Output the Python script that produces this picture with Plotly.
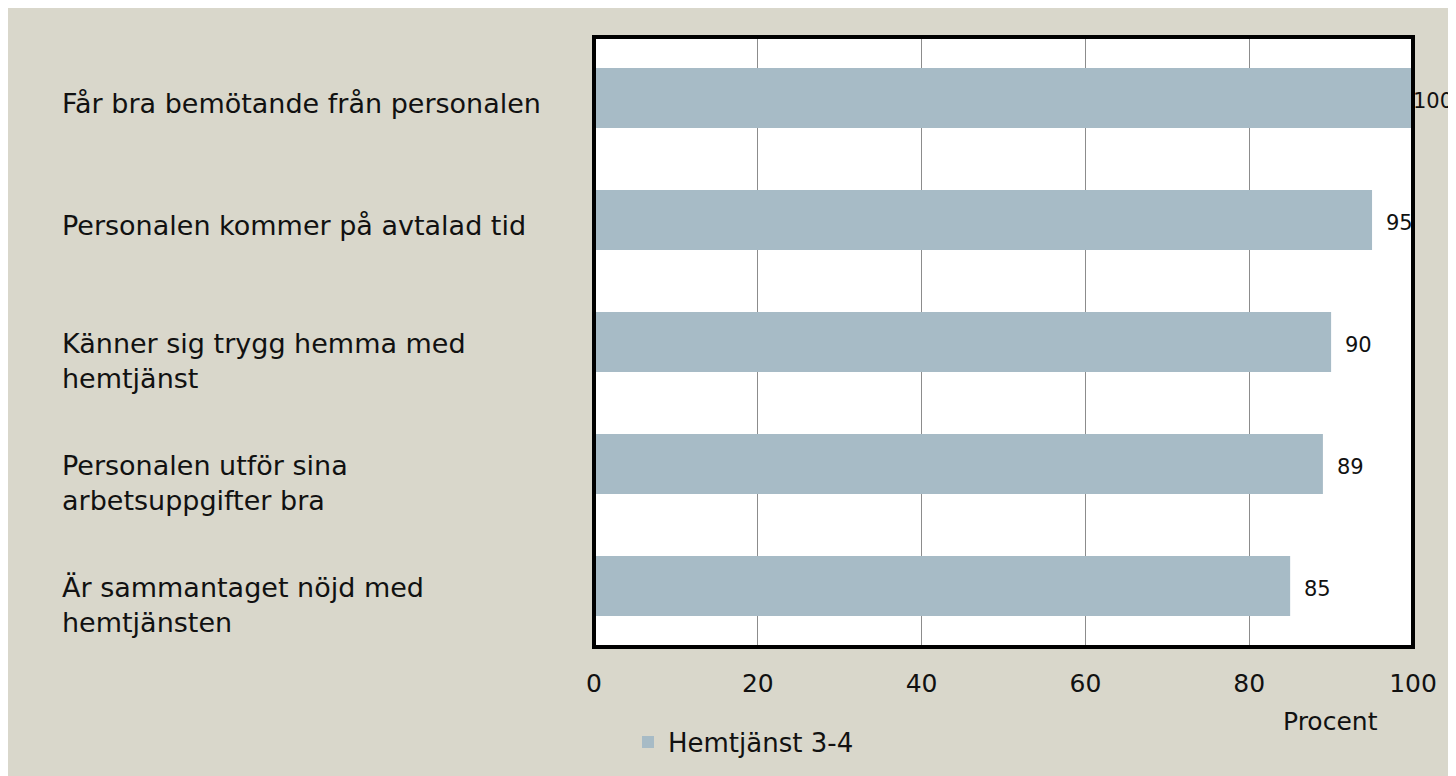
import plotly.graph_objects as go

categories = [
    "Får bra bemötande från personalen",
    "Personalen kommer på avtalad tid",
    "Känner sig trygg hemma med<br>hemtjänst",
    "Personalen utför sina<br>arbetsuppgifter bra",
    "Är sammantaget nöjd med<br>hemtjänsten",
]
values = [100, 95, 90, 89, 85]
series_name = "Hemtjänst 3-4"
x_ticks = [0, 20, 40, 60, 80, 100]
axis_title = "Procent"

# page offset of the figure div (default body margin)
OX, OY = 8, 8
W, H = 1448, 768
PL, PT, PR, PB = 594, 37, 1413, 648  # plot area in page pixels
L, T = PL - OX, PT - OY
R, B = (OX + W) - PR, (OY + H) - PB
pw, ph = PR - PL, PB - PT


def xf(px):
    return (px - PL) / pw


def yf(py):
    return (PB - py) / ph


FONT = "DejaVu Sans"
FS = 25
FS_CAT = 27
FS_VAL = 21
BG = "#D9D7CB"
BAR = "#A7BBC6"
TXT = "#111111"

fig = go.Figure()
fig.add_trace(go.Bar(
    x=values, y=categories, orientation="h", name=series_name,
    marker=dict(color=BAR, line=dict(width=0)),
    showlegend=True,
))

annotations = []
for c, v in zip(categories, values):
    multi = "<br>" in c
    annotations.append(dict(
        x=xf(60), xref="paper", y=c, yref="y",
        text=c, showarrow=False, xanchor="left", yanchor="middle",
        align="left", yshift=-19 if multi else -5,
        font=dict(family=FONT, size=FS_CAT, color=TXT),
    ))
    annotations.append(dict(
        x=v, xref="x", y=c, yref="y", text=str(v), showarrow=False,
        xanchor="left", yanchor="middle", xshift=-1 if v >= 100 else 13,
        yshift=-3, borderpad=0,
        font=dict(family=FONT, size=FS_VAL, color=TXT),
    ))
annotations.append(dict(
    x=xf(1330), xref="paper", y=yf(723), yref="paper",
    text=axis_title, showarrow=False, xanchor="center", yanchor="middle",
    font=dict(family=FONT, size=FS, color=TXT),
))

shapes = [
    dict(type="rect", xref="paper", yref="paper", x0=0, x1=1, y0=0, y1=1,
         line=dict(color="black", width=4), fillcolor="rgba(0,0,0,0)", layer="above"),
]

fig.update_layout(
    width=W, height=H,
    margin=dict(l=L, r=R, t=T, b=B, pad=0),
    paper_bgcolor=BG, plot_bgcolor="white",
    bargap=0.51,
    font=dict(family=FONT, size=FS, color=TXT),
    xaxis=dict(range=[0, 100], tickvals=x_ticks, showgrid=True,
               gridcolor="#8c8c8c", gridwidth=1, zeroline=False,
               ticks="outside", ticklen=14, tickcolor="rgba(0,0,0,0)",
               tickfont=dict(family=FONT, size=FS, color=TXT),
               showline=False, fixedrange=True),
    yaxis=dict(categoryorder="array", categoryarray=categories,
               autorange="reversed", showticklabels=False, showgrid=False,
               zeroline=False, showline=False, fixedrange=True),
    legend=dict(orientation="h", x=xf(628), y=yf(742),
                xanchor="left", yanchor="middle", bgcolor="rgba(0,0,0,0)",
                font=dict(family=FONT, size=26, color=TXT),
                itemwidth=30),
    annotations=annotations,
    shapes=shapes,
)

fig.write_html("out.html")
